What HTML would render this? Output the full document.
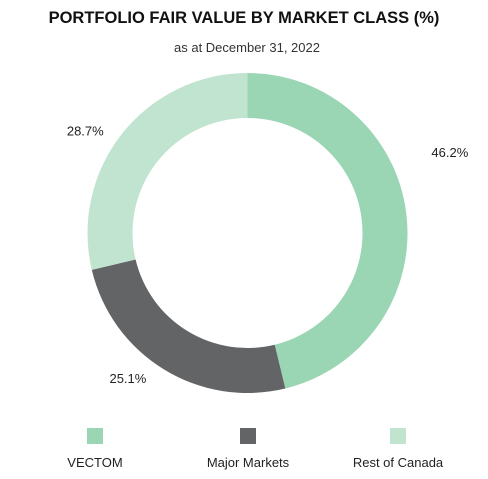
<!DOCTYPE html>
<html><head><meta charset="utf-8"><style>
body{margin:0;width:488px;height:474px;background:#fff;font-family:"Liberation Sans",sans-serif;overflow:hidden}
</style></head><body>
<svg id="chart" width="488" height="474">
<text x="244" y="23" text-anchor="middle" font-size="16.5" font-weight="bold" fill="#111">PORTFOLIO FAIR VALUE BY MARKET CLASS (%)</text>
<text x="247" y="52" text-anchor="middle" font-size="13" fill="#333">as at December 31, 2022</text>
<g id="slices"></g>
<g id="legend"></g>
</svg>
<script>
const categories=["VECTOM","Major Markets","Rest of Canada"];
const values=[46.2,25.1,28.7];
const labels=["46.2%","25.1%","28.7%"];
const colors=["#9ad6b3","#636466","#c0e4d0"];
const ns="http://www.w3.org/2000/svg";
const cx=247.5,cy=233,R=160,r=115;
const labelShift=[-15,8,-6];
const labelRad=[218,188,192];
const total=values.reduce((a,b)=>a+b,0);
const g=document.getElementById('slices');
let a0=0;
function pt(rad,a){return [cx+rad*Math.sin(a),cy-rad*Math.cos(a)];}
values.forEach((v,i)=>{
  const a1=a0+v/total*2*Math.PI;
  const large=(a1-a0)>Math.PI?1:0;
  const [x1,y1]=pt(R,a0),[x2,y2]=pt(R,a1),[x3,y3]=pt(r,a1),[x4,y4]=pt(r,a0);
  const p=document.createElementNS(ns,'path');
  p.setAttribute('d',`M${x1},${y1}A${R},${R} 0 ${large} 1 ${x2},${y2}L${x3},${y3}A${r},${r} 0 ${large} 0 ${x4},${y4}Z`);
  p.setAttribute('fill',colors[i]);
  
  
  g.appendChild(p);
  const am=(a0+a1)/2+labelShift[i]*Math.PI/180;
  const [lx,ly]=pt(labelRad[i],am);
  const t=document.createElementNS(ns,'text');
  t.setAttribute('x',lx);t.setAttribute('y',ly+5);
  t.setAttribute('text-anchor','middle');
  t.setAttribute('font-size','13');t.setAttribute('fill','#222');
  t.textContent=labels[i];
  
  
  g.appendChild(t);
  a0=a1;
});
const lg=document.getElementById('legend');
const lxs=[95,248,398];
categories.forEach((c,i)=>{
  const rc=document.createElementNS(ns,'rect');
  rc.setAttribute('x',lxs[i]-8);rc.setAttribute('y',428);rc.setAttribute('width',16);rc.setAttribute('height',16);
  rc.setAttribute('fill',colors[i]);
  
  
  lg.appendChild(rc);
  const t=document.createElementNS(ns,'text');
  t.setAttribute('x',lxs[i]);t.setAttribute('y',467);t.setAttribute('text-anchor','middle');
  t.setAttribute('font-size','13');t.setAttribute('fill','#222');t.textContent=c;
  
  
  lg.appendChild(t);
});
</script>
</body></html>
